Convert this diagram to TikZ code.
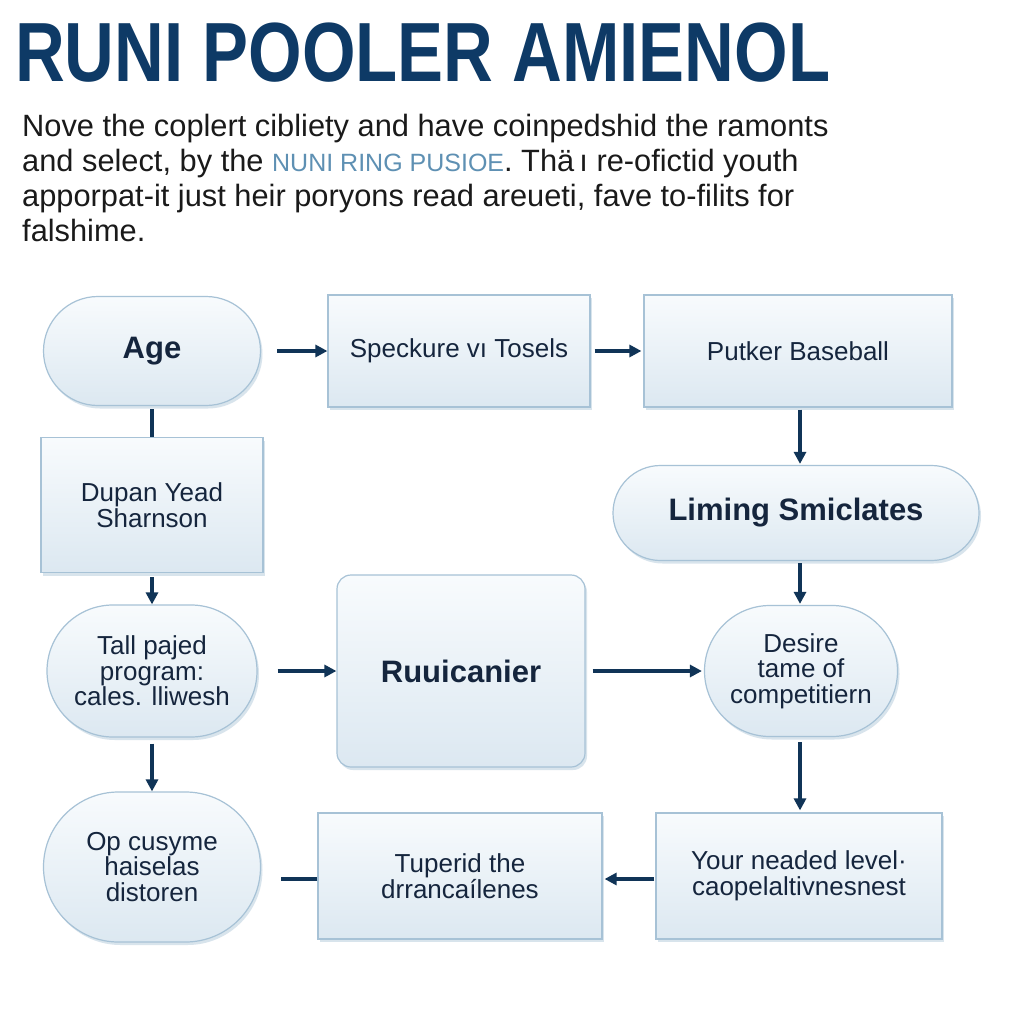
\documentclass[tikz,border=0pt]{standalone}
\usepackage{fontspec}
\setmainfont{Liberation Sans}
\usetikzlibrary{arrows.meta,shapes.misc,shadows}
\definecolor{navy}{HTML}{0E3A66}
\definecolor{ink}{HTML}{15253D}
\definecolor{edgec}{HTML}{A7C2D6}
\definecolor{fillt}{HTML}{F8FBFD}
\definecolor{fillb}{HTML}{DCE8F1}
\definecolor{hl}{HTML}{5E90B3}
\definecolor{arr}{HTML}{103457}
\definecolor{para}{HTML}{1A1A1A}
\tikzset{
  basebox/.style={draw=edgec, line width=1.2pt, top color=fillt, bottom color=fillb,
    text=ink, align=center, inner sep=0pt,
    font=\fontsize{26}{25.5}\selectfont,
    drop shadow={shadow xshift=2pt, shadow yshift=-3pt, fill=edgec!80, opacity=0.55}},
  boxn/.style={basebox, rectangle},
  pill/.style={basebox, rounded rectangle},
  rbox/.style={basebox, rounded corners=14pt},
  boldtxt/.style={font=\fontsize{31}{33}\selectfont\bfseries},
  flow/.style={draw=arr, line width=3.5pt, -{Triangle[length=12pt,width=12pt]}},
  link/.style={draw=arr, line width=3.5pt},
  ptext/.style={anchor=base west, inner sep=0pt, text=para, font=\fontsize{30.8}{34}\selectfont},
}
\begin{document}
\begin{tikzpicture}[x=1pt,y=-1pt]
\useasboundingbox[fill=white] (0,0) rectangle (1024,1024);
% title
\node[anchor=base west, inner sep=0pt, text=navy, font=\fontsize{84}{84}\selectfont\bfseries] (title) at (15,82) {\scalebox{0.82}[1]{RUNI POOLER AMIENOL}};
% paragraph
\node[ptext] (p1) at (22,137) {Nove the coplert cibliety and have coinpedshid the ramonts};
\node[ptext] (p2) at (22,172) {and select, by the {\color{hl}\fontsize{25}{25}\selectfont NUNI RING PUSIOE}. Thä\,ı re-ofictid youth};
\node[ptext] (p3) at (22,207) {apporpat-it just heir poryons read areueti, fave to-filits for};
\node[ptext] (p4) at (22,241) {falshime.};
% nodes
\node[pill, boldtxt, minimum width=217pt, minimum height=109pt] (age) at (152,351) {Age};
\node[boxn, minimum width=262pt, minimum height=112pt] (spk) at (459,351) {Speckure vı Tosels};
\node[boxn, minimum width=308pt, minimum height=112pt] (put) at (798,351) {Putker Baseball};
\node[boxn, minimum width=222pt, minimum height=135pt] (dup) at (152,505) {Dupan Yead\\Sharnson};
\node[pill, boldtxt, minimum width=366pt, minimum height=95pt] (lim) at (796,513) {Liming Smiclates};
\node[pill, minimum width=210pt, minimum height=132pt] (tall) at (152,671) {Tall pajed\\program:\\cales. lliwesh};
\node[rbox, boldtxt, minimum width=248pt, minimum height=192pt] (ruu) at (461,671) {Ruuicanier};
\node[pill, minimum width=193pt, minimum height=131pt] (des) at (801,671) {Desire\\tame of\\competitiern};
\node[pill, minimum width=217pt, minimum height=150pt] (op) at (152,867) {Op cusyme\\haiselas\\distoren};
\node[boxn, minimum width=284pt, minimum height=126pt] (tup) at (460,876) {Tuperid the\\drrancaílenes};
\node[boxn, minimum width=286pt, minimum height=126pt] (your) at (799,876) {Your neaded level·\\caopelaltivnesnest};
% connectors
\draw[flow, shorten <=16pt] (age.east) -- (spk.west);
\draw[flow, shorten <=4pt, shorten >=2pt] (spk.east) -- (put.west);
\draw[link, shorten <=3pt] (age.south) -- (dup.north);
\draw[flow, shorten <=2pt, shorten >=1pt] (put.south -| 800,0) -- (lim.north -| 800,0);
\draw[flow, shorten <=4pt, shorten >=0pt] (dup.south) -- (tall.north);
\draw[flow, shorten <=2pt, shorten >=1pt] (lim.south -| 800,0) -- (des.north -| 800,0);
\draw[flow, shorten <=20pt] (tall.east) -- (ruu.west);
\draw[flow, shorten <=7pt, shorten >=2pt] (ruu.east) -- (des.west);
\draw[flow, shorten <=6pt] (tall.south) -- (op.north);
\draw[flow, shorten <=5pt, shorten >=2pt] (des.south -| 800,0) -- (your.north -| 800,0);
\draw[flow, shorten <=1pt, shorten >=2pt] ([yshift=-3pt]your.west) -- ([yshift=-3pt]tup.east);
\draw[link, shorten >=20pt] ([yshift=-3pt]tup.west) -- ([yshift=-3pt]tup.west -| op.east);
\end{tikzpicture}
\end{document}
